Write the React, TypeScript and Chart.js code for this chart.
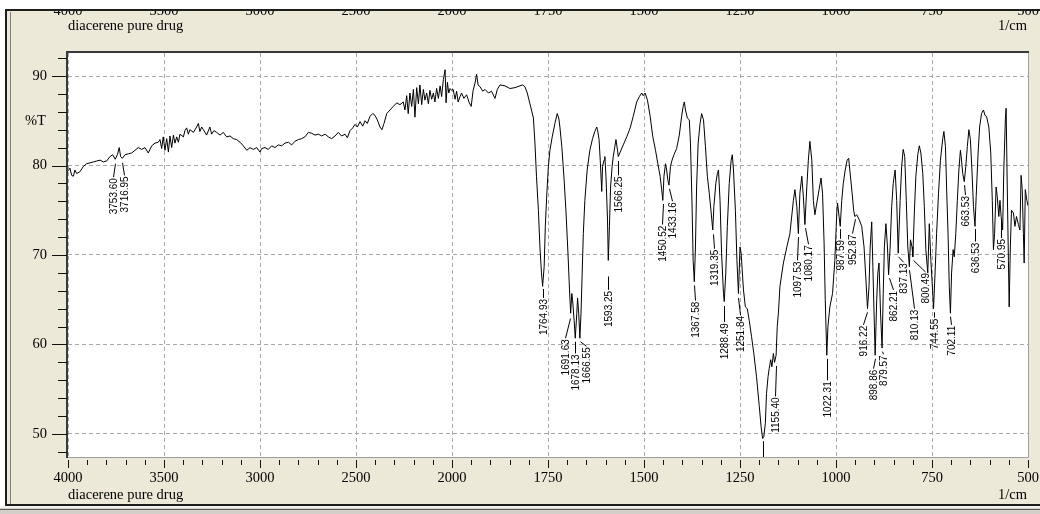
import React, { useEffect, useRef } from "react";
import { Chart, registerables } from "chart.js";

Chart.register(...registerables);

// ---------- text ----------
const TITLE = "diacerene pure drug";
const UNIT = "1/cm";
const Y_TITLE = "%T";

// ---------- ticks ----------
const xTickWavenumbers = [4000, 3500, 3000, 2500, 2000, 1750, 1500, 1250, 1000, 750, 500];
const yTickValues = [50, 60, 70, 80, 90];

// ---------- spectrum (wavenumber 1/cm, %T) ----------
const baselineRange: [number, number][] = [
  [4000, 79.4], [3990, 79.7], [3981, 78.9], [3972, 78.8], [3964, 79.5], [3955, 79.1], [3938, 79.3],
  [3920, 79.9], [3903, 80.2], [3885, 80.3], [3868, 80.4], [3851, 80.5], [3833, 80.6], [3816, 80.4],
  [3799, 80.5], [3781, 81.0], [3767, 81.2], [3754, 80.7], [3743, 81.2], [3733, 82.0], [3726, 81.0],
  [3717, 80.8], [3703, 81.2], [3686, 81.3], [3668, 81.4], [3651, 81.7], [3634, 82.0], [3616, 81.8],
  [3599, 82.0], [3582, 81.4], [3564, 82.2], [3547, 82.5], [3530, 82.6], [3521, 82.9], [3512, 81.9],
  [3504, 83.2], [3495, 81.7], [3486, 83.0], [3477, 81.5], [3469, 83.3], [3460, 82.0], [3451, 83.4],
  [3443, 82.5], [3434, 83.2], [3425, 82.6], [3417, 83.5], [3399, 83.2], [3391, 83.9], [3382, 84.2],
  [3373, 83.5], [3365, 84.0], [3347, 83.7], [3330, 84.3], [3321, 84.7], [3313, 83.8], [3304, 84.3],
  [3295, 84.0], [3278, 83.4], [3261, 84.3], [3252, 83.5], [3240, 83.9], [3226, 83.7], [3208, 83.4],
  [3191, 83.7], [3174, 83.2], [3156, 83.3], [3139, 83.0], [3122, 82.9], [3104, 82.6], [3087, 82.2],
  [3069, 81.7], [3052, 82.0], [3035, 81.8], [3017, 82.0], [3000, 81.5], [2991, 81.9], [2974, 82.0],
  [2957, 81.8], [2939, 82.2], [2922, 82.0], [2905, 82.3], [2887, 82.2], [2870, 82.5], [2852, 82.6],
  [2835, 82.3], [2818, 82.7], [2800, 82.9], [2783, 83.0], [2766, 83.2], [2748, 83.7], [2731, 83.6],
  [2714, 83.4], [2696, 83.5], [2679, 83.3], [2661, 83.5], [2644, 83.2], [2627, 83.0], [2609, 83.3],
  [2592, 83.7], [2575, 83.3], [2557, 83.5], [2545, 83.1], [2531, 83.9], [2517, 84.2], [2505, 84.6],
  [2493, 84.3], [2479, 84.9], [2465, 84.4], [2453, 85.0], [2441, 84.7], [2427, 85.5], [2413, 85.8],
  [2401, 85.6], [2389, 85.1], [2375, 84.3], [2365, 84.0], [2354, 84.7], [2340, 85.8], [2323, 86.2],
  [2306, 86.6], [2288, 87.0], [2271, 86.8], [2254, 87.1], [2245, 86.2], [2236, 87.8], [2228, 85.8],
  [2219, 88.1], [2210, 86.6], [2201, 88.5], [2193, 85.4], [2184, 88.7], [2175, 86.9], [2167, 89.0],
  [2158, 86.8], [2149, 88.5], [2141, 87.3], [2132, 88.1], [2123, 86.9], [2115, 88.4], [2106, 87.4],
  [2097, 88.1], [2089, 87.1], [2080, 88.6], [2071, 87.5], [2062, 88.9], [2054, 87.7], [2045, 89.6],
  [2036, 90.7], [2031, 87.0], [2024, 89.3], [2017, 88.1], [2010, 88.6], [2002, 88.4], [1997, 88.5],
  [1992, 87.4], [1988, 88.3], [1984, 87.1], [1979, 87.7], [1975, 88.1], [1969, 87.5], [1962, 87.9],
  [1955, 87.0], [1950, 86.6], [1945, 88.4], [1940, 89.2], [1936, 90.2], [1932, 89.0], [1927, 88.8],
  [1920, 88.3], [1914, 88.5], [1905, 88.1], [1897, 88.3], [1888, 87.5], [1882, 88.5], [1875, 89.0],
  [1862, 88.9], [1849, 88.6], [1836, 88.7], [1823, 88.9], [1816, 89.0], [1810, 88.8],
];

const carbonylRange: [number, number][] = [
  [1804, 88.1], [1797, 86.9], [1793, 86.2], [1788, 85.3], [1784, 82.5], [1780, 78.8], [1775, 75.0],
  [1771, 70.9], [1767, 68.0], [1764, 66.5], [1760, 68.7], [1757, 73.2], [1753, 76.9], [1749, 79.9],
  [1745, 81.7], [1739, 83.2], [1732, 84.7], [1726, 85.8], [1722, 85.3], [1719, 84.3], [1714, 82.1],
  [1708, 78.4], [1703, 74.7], [1698, 70.2], [1694, 66.1], [1691, 63.5], [1688, 65.7], [1686, 65.0],
  [1682, 62.7], [1679, 60.7], [1675, 63.5], [1673, 65.2], [1670, 63.5], [1667, 60.7], [1664, 63.5],
  [1661, 68.0], [1658, 72.4], [1654, 76.1], [1648, 79.5], [1641, 81.7], [1634, 83.0], [1628, 83.8],
  [1623, 84.3], [1621, 84.0], [1617, 82.9], [1614, 80.6], [1610, 77.1], [1608, 79.9], [1604, 80.6],
  [1602, 81.0], [1599, 78.8], [1595, 73.9], [1593, 69.4], [1590, 73.2], [1587, 77.6], [1583, 79.9],
  [1580, 81.0], [1576, 82.1], [1573, 82.9], [1569, 81.7], [1567, 81.0], [1562, 81.5], [1554, 82.3],
  [1545, 83.2], [1536, 84.2], [1528, 85.5], [1519, 87.1], [1512, 87.7], [1506, 88.1], [1502, 87.8],
  [1497, 88.1], [1491, 87.3], [1484, 85.5], [1477, 83.2], [1470, 81.7], [1464, 80.2], [1458, 78.8],
  [1454, 77.3], [1451, 76.1], [1448, 78.8], [1444, 80.2], [1441, 79.5], [1438, 78.4], [1435, 77.8],
  [1431, 79.9], [1427, 80.6], [1422, 81.2], [1415, 81.9], [1408, 83.4], [1402, 85.5], [1398, 86.6],
  [1395, 87.1], [1392, 86.2], [1387, 85.3], [1382, 85.1], [1379, 82.5], [1375, 75.8], [1372, 69.4],
  [1369, 67.0], [1366, 70.9], [1363, 77.6], [1359, 82.5], [1354, 84.7], [1350, 85.8], [1345, 85.1],
  [1340, 82.1], [1335, 78.8], [1330, 76.9], [1325, 74.7], [1321, 72.8], [1318, 75.4], [1313, 78.0],
  [1309, 79.1], [1306, 79.5], [1302, 76.1], [1298, 70.2], [1293, 65.7], [1291, 64.8], [1287, 68.0],
  [1283, 73.2], [1278, 78.0], [1273, 80.6], [1270, 81.2], [1267, 79.5], [1262, 75.0], [1258, 69.4],
  [1254, 65.7],
];

const fingerprintRange: [number, number][] = [
  [1250, 70.9], [1247, 70.2], [1241, 66.1], [1236, 64.2], [1231, 64.0], [1226, 62.7], [1220, 60.9],
  [1214, 59.0], [1207, 56.4], [1200, 53.2], [1195, 50.8], [1191, 49.5], [1188, 49.7], [1184, 51.2],
  [1181, 54.5], [1177, 56.4], [1174, 57.3], [1170, 58.3], [1167, 57.5], [1163, 59.0], [1160, 58.0],
  [1156, 58.8], [1153, 62.0], [1150, 63.5], [1146, 66.5], [1137, 69.1], [1128, 70.9], [1120, 72.4],
  [1111, 76.1], [1107, 77.3], [1102, 75.4], [1098, 72.4], [1094, 76.9], [1089, 78.8], [1085, 76.5],
  [1081, 73.4], [1076, 77.6], [1072, 80.6], [1068, 82.7], [1063, 80.6], [1059, 76.1], [1055, 74.5],
  [1050, 75.8], [1044, 77.3], [1039, 78.6], [1035, 76.9], [1031, 71.3], [1028, 65.0], [1024, 58.8],
  [1021, 62.0], [1016, 64.2], [1009, 65.7], [1003, 69.4], [998, 74.7], [996, 75.8], [992, 74.3],
  [989, 73.2], [985, 76.1], [981, 78.0], [976, 79.5], [971, 80.6], [967, 80.8], [964, 79.5],
  [958, 76.9], [954, 75.0], [951, 74.3], [946, 74.5], [939, 73.9], [933, 73.2], [927, 70.9],
  [922, 67.2], [918, 64.0], [914, 66.5], [911, 70.9], [907, 73.7], [904, 68.7], [900, 62.0],
  [898, 58.8], [894, 65.0], [891, 68.0], [888, 69.1], [884, 63.5], [880, 59.6], [877, 65.7],
  [874, 70.9], [870, 73.5], [866, 70.9], [863, 67.8], [859, 70.9], [855, 75.4], [851, 78.0],
  [846, 79.5], [842, 76.1], [838, 70.2], [833, 76.1], [829, 79.9], [825, 81.8], [821, 81.0],
  [817, 76.1], [813, 70.9], [809, 68.7], [806, 71.7], [802, 70.9], [800, 69.8], [796, 74.7],
  [792, 78.8], [787, 81.2], [783, 82.2], [779, 81.4], [774, 79.1], [770, 75.4], [766, 70.6],
  [761, 68.0], [757, 73.5], [753, 69.4], [748, 65.7], [746, 64.0], [742, 68.0], [738, 72.4],
  [733, 76.9], [728, 80.6], [722, 83.0], [719, 83.8], [715, 82.1], [712, 77.6], [708, 72.0],
  [705, 66.5], [702, 63.5], [699, 68.0], [695, 70.6], [692, 69.8], [688, 72.4], [684, 76.1],
  [680, 79.5], [676, 81.7], [674, 81.0], [670, 79.1], [666, 78.2], [662, 79.9], [658, 82.1],
  [654, 84.0], [650, 82.9], [646, 79.5], [642, 75.4], [638, 73.2], [635, 76.5], [630, 81.4],
  [626, 84.3], [621, 85.8], [616, 86.2], [612, 85.6], [608, 85.5], [602, 84.3], [597, 81.4],
  [593, 76.1], [590, 70.6], [587, 72.4], [583, 77.6], [580, 76.5], [576, 74.3], [573, 76.1],
  [570, 74.3], [566, 72.8], [563, 79.5], [559, 85.1], [557, 86.4], [554, 77.6], [551, 69.4],
  [549, 64.2], [546, 70.9], [543, 75.0], [538, 74.7], [534, 73.2], [530, 74.3], [525, 73.4],
  [521, 72.8], [518, 78.9], [515, 77.3], [512, 72.4], [510, 69.1], [507, 77.3], [503, 76.1],
  [500, 75.5],
];

// peak labels: peak wavenumber, %T where leader starts, wavenumber of text, %T of text top
const peakLabelText = [
  "3753.60", "3716.95", "1764.93", "1691.63", "1678.13", "1666.55", "1593.25", "1566.25",
  "1450.52", "1433.16", "1367.58", "1319.35", "1288.49", "1251.84", "1155.40", "",
  "1097.53", "1080.17", "1022.31", "987.59", "952.87", "916.22", "898.86", "879.57",
  "862.21", "837.13", "810.13", "800.49", "744.55", "702.11", "663.53", "636.53", "570.95",
];
const peakLabelPeakWn = [
  3754, 3717, 1764, 1692, 1679, 1667, 1593, 1567,
  1451, 1435, 1369, 1321, 1291, 1254, 1156, 1190,
  1098, 1081, 1024, 989, 951, 918, 898, 880,
  863, 838, 809, 800, 746, 702, 666, 638, 570,
];
const peakLabelFromT = [
  80.2, 80.3, 66.2, 62.9, 60.3, 60.3, 67.6, 80.5,
  75.7, 77.4, 66.6, 72.3, 64.3, 65.2, 57.6, 49.2,
  72.0, 73.0, 58.4, 72.9, 74.0, 63.6, 58.4, 59.2,
  67.4, 69.8, 68.3, 69.4, 63.6, 63.1, 77.8, 72.9, 73.9,
];
const peakLabelTextWn = [
  3764, 3707, 1764, 1707, 1680, 1651, 1593, 1567,
  1454, 1428, 1367, 1319, 1292, 1250, 1158, 1190,
  1102, 1074, 1024, 990, 959, 929, 903, 877,
  851, 825, 797, 767, 745, 701, 664, 637, 571,
];
const peakLabelTopT = [
  78.7, 78.9, 65.2, 60.7, 59.0, 59.8, 66.1, 78.9,
  73.4, 76.0, 64.9, 70.7, 62.5, 63.3, 54.2, 46.0,
  69.4, 71.2, 56.0, 71.8, 72.4, 62.2, 57.3, 58.9,
  66.1, 69.2, 64.0, 68.1, 63.0, 62.2, 76.7, 71.5, 71.9,
];

// ---------- axis mapping (Shimadzu style: scale doubles below 2000 1/cm) ----------
const toAxis = (wn: number) => (wn >= 2000 ? 4000 - wn : 2000 + (2000 - wn) * 2);
const fromAxis = (u: number) => (u <= 2000 ? 4000 - u : 2000 - (u - 2000) / 2);

const BG = "#ECE9D8";
const SERIF = "'Liberation Serif', 'Times New Roman', serif";
const SMALL = "'Liberation Sans', Arial, sans-serif";

const decorPlugin = {
  id: "irDecor",
  beforeDraw(chart: any) {
    const { ctx, chartArea: a, width, height } = chart;
    ctx.save();
    ctx.fillStyle = BG;
    ctx.fillRect(0, 0, width, height);
    ctx.fillStyle = "#ffffff";
    ctx.fillRect(a.left, a.top, a.right - a.left, a.bottom - a.top);
    ctx.restore();
  },
  afterDatasetsDraw(chart: any) {
    const { ctx, chartArea: a } = chart;
    const xs = chart.scales.x;
    const ys = chart.scales.y;
    ctx.save();
    ctx.beginPath();
    ctx.rect(a.left, a.top, a.right - a.left, a.bottom - a.top);
    ctx.clip();
    ctx.strokeStyle = "#000";
    ctx.fillStyle = "#000";
    ctx.lineWidth = 1;
    ctx.font = `10px ${SMALL}`;
    for (let i = 0; i < peakLabelText.length; i++) {
      const xp = Math.round(xs.getPixelForValue(toAxis(peakLabelPeakWn[i]))) + 0.5;
      const yp = ys.getPixelForValue(peakLabelFromT[i]);
      const xl = Math.round(xs.getPixelForValue(toAxis(peakLabelTextWn[i]))) + 0.5;
      const yt = ys.getPixelForValue(peakLabelTopT[i]);
      ctx.beginPath();
      ctx.moveTo(xp, yp);
      ctx.lineTo(xl, yt);
      ctx.stroke();
      if (peakLabelText[i]) {
        ctx.save();
        ctx.translate(xl, yt + 1);
        ctx.rotate(-Math.PI / 2);
        ctx.textAlign = "right";
        ctx.textBaseline = "middle";
        ctx.fillText(peakLabelText[i], 0, 0.5);
        ctx.restore();
      }
    }
    ctx.restore();
  },
  afterDraw(chart: any) {
    const { ctx, chartArea: a, width, height } = chart;
    const xs = chart.scales.x;
    const ys = chart.scales.y;
    ctx.save();

    // frame of plot area
    ctx.lineWidth = 1;
    ctx.strokeStyle = "#a0a0a0";
    ctx.beginPath();
    ctx.moveTo(a.right + 0.5, a.top);
    ctx.lineTo(a.right + 0.5, a.bottom + 0.5);
    ctx.lineTo(a.left, a.bottom + 0.5);
    ctx.stroke();
    ctx.strokeStyle = "#3a3a3a";
    ctx.lineWidth = 2;
    ctx.beginPath();
    ctx.moveTo(a.left - 1, a.bottom + 1);
    ctx.lineTo(a.left - 1, a.top - 1);
    ctx.lineTo(a.right + 1, a.top - 1);
    ctx.stroke();

    // x tick marks (major + minor)
    ctx.strokeStyle = "#111";
    ctx.lineWidth = 1;
    for (let u = 0; u <= 5000; u += 100) {
      const px = Math.round(xs.getPixelForValue(u)) + 0.5;
      const major = u % 500 === 0;
      ctx.beginPath();
      ctx.moveTo(px, a.bottom + 3);
      ctx.lineTo(px, a.bottom + (major ? 11 : 8));
      ctx.stroke();
    }
    // y tick marks
    for (let v = 48; v <= 92; v += 2) {
      const py = Math.round(ys.getPixelForValue(v)) + 0.5;
      const major = v % 10 === 0;
      ctx.beginPath();
      ctx.moveTo(a.left - (major ? 16 : 10), py);
      ctx.lineTo(a.left - 1, py);
      ctx.stroke();
    }

    // texts
    ctx.fillStyle = "#000";
    ctx.font = `14.5px ${SERIF}`;
    ctx.textBaseline = "alphabetic";
    ctx.textAlign = "left";
    ctx.fillText(TITLE, a.left, 30);
    ctx.fillText(TITLE, a.left, 499);
    ctx.textAlign = "right";
    ctx.fillText(UNIT, a.right - 1, 30);
    ctx.fillText(UNIT, a.right - 1, 499);
    ctx.textAlign = "left";
    ctx.textBaseline = "middle";
    ctx.fillText(Y_TITLE, 25, ys.getPixelForValue(84.9));

    // clipped scale labels at the very top (scrolled panel above)
    ctx.textAlign = "center";
    ctx.textBaseline = "alphabetic";
    for (const w of xTickWavenumbers) {
      ctx.fillText(String(w), xs.getPixelForValue(toAxis(w)), 15);
    }
    ctx.fillStyle = "#ffffff";
    ctx.fillRect(0, 0, width, 9);
    ctx.fillRect(0, 0, 5, height);

    // window borders
    ctx.fillStyle = "#1e1e1e";
    ctx.fillRect(5, 9, width - 5, 2);
    ctx.fillRect(5, 9, 2, 497);
    ctx.fillStyle = "#808080";
    ctx.fillRect(10, 12, 1, 492);
    ctx.fillStyle = "#1e1e1e";
    ctx.fillRect(5, 504, width - 5, 2);
    ctx.fillStyle = "#f4f3ee";
    ctx.fillRect(0, 506, width, 2);
    ctx.fillStyle = "#d4d0c8";
    ctx.fillRect(0, 508, width, height - 508);
    ctx.fillStyle = "#5a5a5a";
    ctx.fillRect(0, 509, width, 1);
    ctx.restore();
  },
};

export default function App() {
  const ref = useRef<HTMLCanvasElement | null>(null);

  useEffect(() => {
    document.body.style.margin = "0";
    const canvas = ref.current;
    if (!canvas) return;
    const points = [...baselineRange, ...carbonylRange, ...fingerprintRange].map(([wn, t]) => ({
      x: toAxis(wn),
      y: t,
    }));
    const chart = new Chart(canvas, {
      type: "line",
      data: {
        datasets: [
          {
            data: points,
            borderColor: "#000",
            borderWidth: 1,
            pointRadius: 0,
            tension: 0,
            fill: false,
          },
        ],
      },
      options: {
        responsive: false,
        animation: false,
        devicePixelRatio: 1,
        layout: { padding: { left: 8, top: 53, right: 12, bottom: 17 } },
        plugins: {
          legend: { display: false },
          tooltip: { enabled: false },
          title: { display: false },
        },
        scales: {
          x: {
            type: "linear",
            min: 0,
            max: 5000,
            afterFit: (s: any) => {
              s.height = 40;
              s.paddingLeft = 0;
              s.paddingRight = 0;
            },
            afterBuildTicks: (s: any) => {
              s.ticks = xTickWavenumbers.map((w) => ({ value: toAxis(w) }));
            },
            ticks: {
              callback: (v: any) => String(fromAxis(Number(v))),
              color: "#000",
              font: { family: SERIF, size: 14.5 },
              padding: 12,
              maxRotation: 0,
              autoSkip: false,
            },
            grid: { color: "#a8a8a8", lineWidth: 1, drawTicks: false },
            border: { display: false, dash: [4, 3] },
          },
          y: {
            type: "linear",
            min: 47.43,
            max: 92.57,
            afterFit: (s: any) => {
              s.width = 60;
              s.paddingTop = 0;
              s.paddingBottom = 0;
            },
            afterBuildTicks: (s: any) => {
              s.ticks = yTickValues.map((v) => ({ value: v }));
            },
            ticks: {
              color: "#000",
              font: { family: SERIF, size: 14.5 },
              padding: 21,
              autoSkip: false,
            },
            grid: { color: "#a8a8a8", lineWidth: 1, drawTicks: false },
            border: { display: false, dash: [4, 3] },
          },
        },
      },
      plugins: [decorPlugin],
    } as any);
    return () => chart.destroy();
  }, []);

  return (
    <div style={{ position: "fixed", left: 0, top: 0, width: 1040, height: 514 }}>
      <canvas ref={ref} width={1040} height={514} style={{ display: "block", width: 1040, height: 514 }} />
    </div>
  );
}
